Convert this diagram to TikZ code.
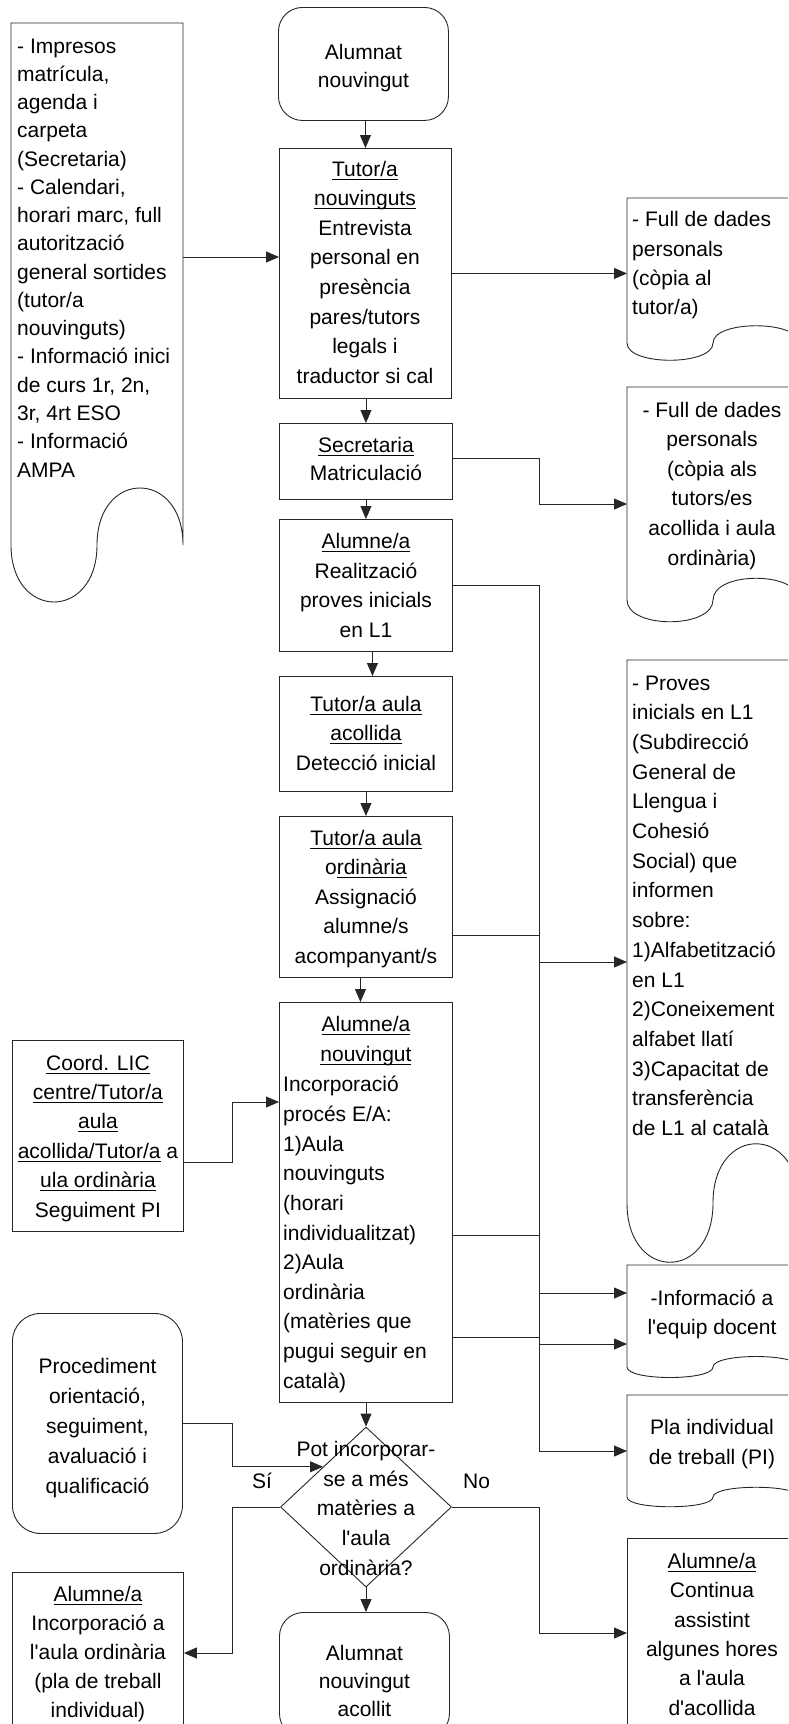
\documentclass[tikz,border=0pt]{standalone}
\usepackage{fontspec}
\setmainfont{Liberation Sans}
% a second face of the same family, kept without TeX ligature mapping
% so that apostrophes stay straight
\newfontfamily\plainsans{Liberation Sans}
\usetikzlibrary{arrows.meta,shapes.geometric,calc}

% font size with a chosen line pitch
\newcommand\fsz[1]{\plainsans\fontsize{21}{#1}\selectfont}
% underline drawn just below the baseline
\newcommand\ulin[1]{\setbox0=\hbox{#1}\rlap{\rule[-3.4pt]{\wd0}{0.9pt}}\box0\relax}
% stacked lines, centred or flush left; the box baseline is the first line
\newcommand\cblock[1]{\vtop{\halign{\hfil##\hfil\cr#1\crcr}}}
\newcommand\lblock[1]{\vtop{\halign{##\hfil\cr#1\crcr}}}
% document outline: left x, right x, top y, bottom y of the edges, wave depth
\newcommand\docshape[5]{%
  \draw[line] (#1,#4) -- (#1,#3) -- (#2,#3) -- (#2,#4)
    .. controls (#2,{#4-#5}) and ({(#1+#2)/2},{#4-#5}) .. ({(#1+#2)/2},#4)
    .. controls ({(#1+#2)/2},{#4+#5}) and (#1,{#4+#5}) .. (#1,#4) -- cycle;}

\begin{document}
\begin{tikzpicture}[x=1pt,y=-1pt,
  line/.style={draw=black!85, line width=0.9pt},
  arr/.style={line, -{Triangle[length=13pt,width=11pt]}},
  box/.style={line, rectangle, inner sep=0pt, anchor=north west},
  term/.style={line, rectangle, rounded corners=24pt, inner sep=0pt, anchor=north west},
  area/.style={rectangle, inner sep=0pt, anchor=north west},
  txt/.style={inner sep=0pt, anchor=base},
  ltxt/.style={inner sep=0pt, anchor=base west},
]
\useasboundingbox (0,0) rectangle (788,1724);
\clip (0,0) rectangle (788,1724);

% ---------- main column ----------
\node[term, minimum width=170pt, minimum height=113pt] (start) at (278,7) {};
\node[txt, font=\fsz{28}] (start-t) at (start.center |- 0,59.5) {\cblock{Alumnat\cr nouvingut}};

\node[box, minimum width=172pt, minimum height=250pt] (tutor) at (279,148) {};
\node[txt, font=\fsz{29.6}] (tutor-t) at (365,176) {\cblock{\ulin{Tutor/a}\cr\ulin{nouvinguts}\cr Entrevista\cr personal en\cr presència\cr pares/tutors\cr legals i\cr traductor si cal}};

\node[box, minimum width=173pt, minimum height=76pt] (secr) at (279,423) {};
\node[txt, font=\fsz{28.3}] (secr-t) at (secr.center |- 0,452) {\cblock{\ulin{Secretaria}\cr Matriculació}};

\node[box, minimum width=173pt, minimum height=132pt] (alum) at (279,519) {};
\node[txt, font=\fsz{29.7}] (alum-t) at (alum.center |- 0,548.3) {\cblock{\ulin{Alumne/a}\cr Realització\cr proves inicials\cr en L1}};

\node[box, minimum width=173pt, minimum height=115pt] (acol) at (279,676) {};
\node[txt, font=\fsz{29.2}] (acol-t) at (acol.center |- 0,711.7) {\cblock{\ulin{Tutor/a aula}\cr\ulin{acollida}\cr Detecció inicial}};

\node[box, minimum width=173pt, minimum height=161pt] (ord) at (279,816) {};
\node[txt, font=\fsz{29.5}] (ord-t) at (ord.center |- 0,845) {\cblock{\ulin{Tutor/a aula}\cr o\ulin{rdinària}\cr Assignació\cr alumne/s\cr acompanyant/s}};

\node[box, minimum width=173pt, minimum height=400pt] (nouv) at (279,1002) {};
\node[txt, font=\fsz{29.7}] (nouv-t) at (nouv.center |- 0,1031.7) {\cblock{\ulin{Alumne/a}\cr\ulin{nouvingut}}};
\node[ltxt, font=\fsz{29.66}] (nouv-l) at (283,1091.7) {\lblock{Incorporació\cr procés E/A:\cr 1)Aula\cr nouvinguts\cr (horari\cr individualitzat)\cr 2)Aula\cr ordinària\cr (matèries que\cr pugui seguir en\cr català)}};

\node[line, diamond, minimum width=171pt, minimum height=160pt, inner sep=0pt] (dia) at (366,1507) {};
\node[txt, font=\fsz{29.6}] (dia-t) at (366,1456.7) {\cblock{Pot incorporar-\cr se a més\cr matèries a\cr l'aula\cr ordinària?}};
\node[ltxt, font=\fsz{29}] (si) at (252,1488.3) {Sí};
\node[ltxt, font=\fsz{29}] (no) at (463,1488.3) {No};

\node[term, minimum width=170pt, minimum height=125pt] (acollit) at (279,1612) {};
\node[txt, font=\fsz{28.3}] (acollit-t) at (acollit.center |- 0,1660) {\cblock{Alumnat\cr nouvingut\cr acollit}};

% ---------- left column ----------
\node[area, minimum width=172pt, minimum height=522pt] (doc0) at (11,23) {};
\docshape{11}{183}{23}{545}{76}
\node[ltxt, font=\fsz{28.27}] (doc0-t) at (17,53) {\lblock{- Impresos\cr matrícula,\cr agenda i\cr carpeta\cr (Secretaria)\cr - Calendari,\cr horari marc, full\cr autorització\cr general sortides\cr (tutor/a\cr nouvinguts)\cr - Informació inici\cr de curs 1r, 2n,\cr 3r, 4rt ESO\cr - Informació\cr AMPA}};

\node[box, minimum width=171pt, minimum height=191pt] (coord) at (12,1040) {};
\node[txt, font=\fsz{29.4}] (coord-t) at (coord.center |- 0,1070) {\cblock{\ulin{Coord. LIC}\cr\ulin{centre/Tutor/a}\cr\ulin{aula}\cr\ulin{acollida/Tutor/a} a\cr\ulin{ula ordinària}\cr Seguiment PI}};

\node[term, rounded corners=28pt, minimum width=170pt, minimum height=220pt] (proc) at (12,1313) {};
\node[txt, font=\fsz{30}] (proc-t) at (proc.center |- 0,1373.3) {\cblock{Procediment\cr orientació,\cr seguiment,\cr avaluació i\cr qualificació}};

\node[box, minimum width=171pt, minimum height=170pt] (incorp) at (12,1572) {};
\node[txt, font=\fsz{29}] (incorp-t) at (incorp.center |- 0,1601.7) {\cblock{\ulin{Alumne/a}\cr Incorporació a\cr l'aula ordinària\cr (pla de treball\cr individual)}};

% ---------- right column ----------
\node[area, minimum width=172pt, minimum height=145pt] (doc1) at (627,198) {};
\docshape{627}{799}{198}{343}{23}
\node[ltxt, font=\fsz{29.4}] (doc1-t) at (632,226.7) {\lblock{- Full de dades\cr personals\cr (còpia al\cr tutor/a)}};

\node[area, minimum width=172pt, minimum height=213pt] (doc2) at (627,387) {};
\docshape{627}{799}{387}{600}{29}
\node[txt, font=\fsz{29.6}] (doc2-t) at (712,417) {\cblock{- Full de dades\cr personals\cr (còpia als\cr tutors/es\cr acollida i aula\cr ordinària)}};

\node[area, minimum width=172pt, minimum height=543pt] (doc3) at (627,660) {};
\docshape{627}{799}{660}{1203}{79}
\node[ltxt, font=\fsz{29.7}] (doc3-t) at (632,690) {\lblock{- Proves\cr inicials en L1\cr (Subdirecció\cr General de\cr Llengua i\cr Cohesió\cr Social) que\cr informen\cr sobre:\cr 1)Alfabetització\cr en L1\cr 2)Coneixement\cr alfabet llatí\cr 3)Capacitat de\cr transferència\cr de L1 al català}};

\node[area, minimum width=172pt, minimum height=102pt] (doc4) at (627,1265) {};
\docshape{627}{799}{1265}{1367}{14}
\node[txt, font=\fsz{29.5}] (doc4-t) at (712,1305) {\cblock{-Informació a\cr l'equip docent}};

\node[area, minimum width=172pt, minimum height=102pt] (doc5) at (627,1395) {};
\docshape{627}{799}{1395}{1497}{13}
\node[txt, font=\fsz{30}] (doc5-t) at (712,1434) {\cblock{Pla individual\cr de treball (PI)}};

\node[box, minimum width=172pt, minimum height=200pt] (cont) at (627,1538) {};
\node[txt, font=\fsz{29.35}] (cont-t) at (712,1568.3) {\cblock{\ulin{Alumne/a}\cr Continua\cr assistint\cr algunes hores\cr a l'aula\cr d'acollida}};

% ---------- connectors ----------
\coordinate (bus) at (539,0);
\coordinate (jl) at (232,0);
\coordinate (dianw) at ($(dia.north)!0.5!(dia.west)$);

\draw[arr] (tutor.north |- start.south) -- (tutor.north);
\draw[arr] (doc0.east |- 0,257) -- (tutor.west |- 0,257);
\draw[arr] (tutor.east) -- (doc1.west |- tutor.east);
\draw[arr] (secr.north |- tutor.south) -- (secr.north);
\draw[arr] (secr.east |- 0,458) -- (bus |- 0,458) -- (bus |- 0,504) -- (doc2.west |- 0,504);
\draw[arr] (secr.south) -- (alum.north);
\draw[arr] ([xshift=6.5pt]alum.south) -- ([xshift=6.5pt]acol.north);
\draw[arr] (acol.south) -- (ord.north);
\draw[arr] ([xshift=-5.5pt]ord.south) -- ([xshift=-5.5pt]nouv.north);

% shared vertical run to the documents on the right
\draw[line] (alum.east) -- (bus |- alum.east) -- (bus |- 0,1451);
\draw[line] (ord.east |- 0,935) -- (bus |- 0,935);
\draw[line] (nouv.east |- 0,1235) -- (bus |- 0,1235);
\draw[line] (nouv.east |- 0,1337) -- (bus |- 0,1337);
\draw[arr] (bus |- 0,962) -- (doc3.west |- 0,962);
\draw[arr] (bus |- 0,1293) -- (doc4.west |- 0,1293);
\draw[arr] (bus |- 0,1344) -- (doc4.west |- 0,1344);
\draw[arr] (bus |- 0,1451) -- (doc5.west |- 0,1451);

\draw[arr] (coord.east |- 0,1162) -- (jl |- 0,1162) -- (jl |- 0,1102) -- (nouv.west |- 0,1102);
\draw[arr] (dia.north |- nouv.south) -- (dia.north);
\draw[arr] (proc.east) -- (jl |- proc.east) -- (jl |- dianw) -- (dianw);
\draw[arr] (dia.west) -- (jl |- dia.west) -- (jl |- 0,1653) -- (incorp.east |- 0,1653);
\draw[arr] (dia.east) -- (bus |- dia.east) -- (bus |- 0,1633) -- (cont.west |- 0,1633);
\draw[arr] (dia.south) -- (dia.south |- acollit.north);
\end{tikzpicture}
\end{document}
